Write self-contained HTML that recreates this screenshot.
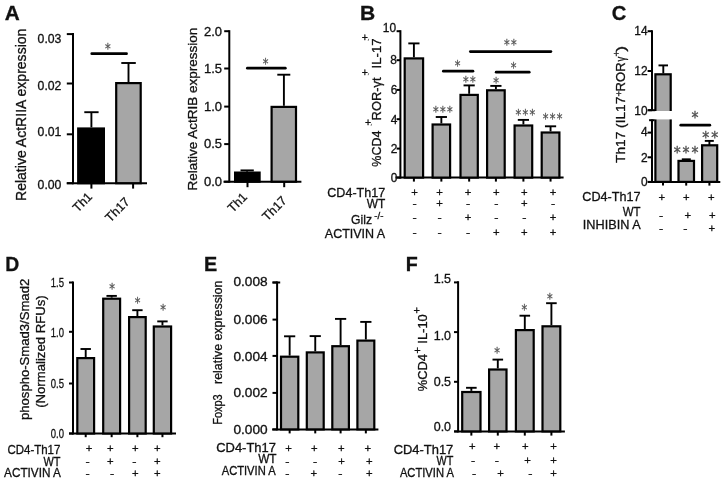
<!DOCTYPE html>
<html><head><meta charset="utf-8"><title>Figure</title>
<style>
html,body{margin:0;padding:0;background:#fff;}
svg{display:block;font-family:"Liberation Sans",Arial,sans-serif;fill:#111;}
.t{stroke:#111;stroke-width:0.3px;}
</style></head><body>
<svg width="725" height="482" viewBox="0 0 725 482">
<rect x="0" y="0" width="725" height="482" fill="#fff"/>
<g>
<text x="4.8" y="20" font-size="19.4" textLength="15" lengthAdjust="spacingAndGlyphs" font-weight="bold" class="t">A</text>
<line x1="73" y1="33" x2="73" y2="184.2" stroke="#000" stroke-width="2.0" stroke-linecap="butt"/>
<line x1="66.8" y1="183.2" x2="147" y2="183.2" stroke="#000" stroke-width="2.0" stroke-linecap="butt"/>
<line x1="66.8" y1="34.1" x2="73" y2="34.1" stroke="#000" stroke-width="2.0" stroke-linecap="butt"/>
<text x="61.4" y="43.17" font-size="12.2" text-anchor="end" textLength="23.8" lengthAdjust="spacingAndGlyphs" class="t">0.03</text>
<line x1="66.8" y1="83.5" x2="73" y2="83.5" stroke="#000" stroke-width="2.0" stroke-linecap="butt"/>
<text x="61.4" y="90.27" font-size="12.2" text-anchor="end" textLength="23.8" lengthAdjust="spacingAndGlyphs" class="t">0.02</text>
<line x1="66.8" y1="134.3" x2="73" y2="134.3" stroke="#000" stroke-width="2.0" stroke-linecap="butt"/>
<text x="61.4" y="135.97" font-size="12.2" text-anchor="end" textLength="23.8" lengthAdjust="spacingAndGlyphs" class="t">0.01</text>
<line x1="66.8" y1="183.2" x2="73" y2="183.2" stroke="#000" stroke-width="2.0" stroke-linecap="butt"/>
<text x="61.4" y="188.67" font-size="12.2" text-anchor="end" textLength="23.8" lengthAdjust="spacingAndGlyphs" class="t">0.00</text>
<rect x="78.2" y="128.5" width="25.7" height="54.7" fill="#000" stroke="#000" stroke-width="2.2"/>
<line x1="91.4" y1="112.2" x2="91.4" y2="127.4" stroke="#000" stroke-width="1.9" stroke-linecap="butt"/>
<line x1="84.3" y1="112.2" x2="98.6" y2="112.2" stroke="#000" stroke-width="1.9" stroke-linecap="butt"/>
<rect x="116.2" y="83.1" width="24.5" height="100.1" fill="#a6a6a6" stroke="#000" stroke-width="2.2"/>
<line x1="128.5" y1="63" x2="128.5" y2="82" stroke="#000" stroke-width="1.9" stroke-linecap="butt"/>
<line x1="121.3" y1="63" x2="135.8" y2="63" stroke="#000" stroke-width="1.9" stroke-linecap="butt"/>
<line x1="91.75" y1="53.65" x2="126.55" y2="53.65" stroke="#000" stroke-width="2.7" stroke-linecap="round"/>
<text transform="translate(107.9 45.8) scale(0.92 1.12)" x="0" y="6.01" font-size="12.4" text-anchor="middle" fill="#505050" font-family="DejaVu Sans, sans-serif" stroke="#505050" stroke-width="0.25">*</text>
<line x1="91.4" y1="183.2" x2="91.4" y2="188.6" stroke="#000" stroke-width="2.0" stroke-linecap="butt"/>
<line x1="133.1" y1="183.2" x2="133.1" y2="188.6" stroke="#000" stroke-width="2.0" stroke-linecap="butt"/>
<text x="93" y="197.5" font-size="12.5" text-anchor="end" transform="rotate(-45 93 197.5)" class="t">Th1</text>
<text x="130.5" y="202.5" font-size="12.5" text-anchor="end" transform="rotate(-45 130.5 202.5)" class="t">Th17</text>
<text x="25.8" y="201" font-size="14" textLength="172.4" lengthAdjust="spacingAndGlyphs" transform="rotate(-90 25.8 201)" class="t">Relative ActRIIA expression</text>
<line x1="229.3" y1="30.2" x2="229.3" y2="182.7" stroke="#000" stroke-width="2.0" stroke-linecap="butt"/>
<line x1="223.5" y1="181.7" x2="301.4" y2="181.7" stroke="#000" stroke-width="2.0" stroke-linecap="butt"/>
<line x1="224.2" y1="31.2" x2="229.3" y2="31.2" stroke="#000" stroke-width="2.0" stroke-linecap="butt"/>
<text x="222" y="36.07" font-size="12.2" text-anchor="end" textLength="18.1" lengthAdjust="spacingAndGlyphs" class="t">2.0</text>
<line x1="224.2" y1="68.5" x2="229.3" y2="68.5" stroke="#000" stroke-width="2.0" stroke-linecap="butt"/>
<text x="222" y="73.07" font-size="12.2" text-anchor="end" textLength="18.1" lengthAdjust="spacingAndGlyphs" class="t">1.5</text>
<line x1="224.2" y1="106.6" x2="229.3" y2="106.6" stroke="#000" stroke-width="2.0" stroke-linecap="butt"/>
<text x="222" y="110.97" font-size="12.2" text-anchor="end" textLength="18.1" lengthAdjust="spacingAndGlyphs" class="t">1.0</text>
<line x1="224.2" y1="144.1" x2="229.3" y2="144.1" stroke="#000" stroke-width="2.0" stroke-linecap="butt"/>
<text x="222" y="148.47" font-size="12.2" text-anchor="end" textLength="18.1" lengthAdjust="spacingAndGlyphs" class="t">0.5</text>
<line x1="224.2" y1="181.7" x2="229.3" y2="181.7" stroke="#000" stroke-width="2.0" stroke-linecap="butt"/>
<text x="222" y="186.17" font-size="12.2" text-anchor="end" textLength="18.1" lengthAdjust="spacingAndGlyphs" class="t">0.0</text>
<rect x="235.1" y="172.6" width="24.5" height="9.1" fill="#000" stroke="#000" stroke-width="2.2"/>
<line x1="247.1" y1="170.4" x2="247.1" y2="171.7" stroke="#000" stroke-width="1.9" stroke-linecap="butt"/>
<line x1="240.5" y1="170.4" x2="253.8" y2="170.4" stroke="#000" stroke-width="1.9" stroke-linecap="butt"/>
<rect x="271.6" y="106.9" width="24.4" height="74.8" fill="#a6a6a6" stroke="#000" stroke-width="2.2"/>
<line x1="283.9" y1="74.7" x2="283.9" y2="105.8" stroke="#000" stroke-width="1.9" stroke-linecap="butt"/>
<line x1="277.3" y1="74.7" x2="290.3" y2="74.7" stroke="#000" stroke-width="1.9" stroke-linecap="butt"/>
<line x1="247.35" y1="68.2" x2="285.35" y2="68.2" stroke="#000" stroke-width="2.7" stroke-linecap="round"/>
<text transform="translate(265.5 61.6) scale(0.92 1.12)" x="0" y="6.01" font-size="12.4" text-anchor="middle" fill="#505050" font-family="DejaVu Sans, sans-serif" stroke="#505050" stroke-width="0.25">*</text>
<line x1="247.5" y1="181.7" x2="247.5" y2="187.2" stroke="#000" stroke-width="2.0" stroke-linecap="butt"/>
<line x1="284.2" y1="181.7" x2="284.2" y2="187.2" stroke="#000" stroke-width="2.0" stroke-linecap="butt"/>
<text x="248" y="197.8" font-size="12.5" text-anchor="end" transform="rotate(-45 248 197.8)" class="t">Th1</text>
<text x="287.5" y="201.4" font-size="12.5" text-anchor="end" transform="rotate(-45 287.5 201.4)" class="t">Th17</text>
<text x="197.4" y="190.4" font-size="13.6" textLength="162.8" lengthAdjust="spacingAndGlyphs" transform="rotate(-90 197.4 190.4)" class="t">Relative ActRIB expression</text>
<text x="360" y="20" font-size="19.4" textLength="15.2" lengthAdjust="spacingAndGlyphs" font-weight="bold" class="t">B</text>
<line x1="400.4" y1="30.2" x2="400.4" y2="178.6" stroke="#000" stroke-width="2.0" stroke-linecap="butt"/>
<line x1="395.5" y1="177.6" x2="563.6" y2="177.6" stroke="#000" stroke-width="2.0" stroke-linecap="butt"/>
<line x1="396.6" y1="31.2" x2="400.4" y2="31.2" stroke="#000" stroke-width="2.0" stroke-linecap="butt"/>
<text x="396" y="32.06" font-size="11.9" text-anchor="end" class="t">10</text>
<line x1="396.6" y1="60.2" x2="400.4" y2="60.2" stroke="#000" stroke-width="2.0" stroke-linecap="butt"/>
<text x="396.8" y="63.76" font-size="11.9" text-anchor="end" class="t">8</text>
<line x1="396.6" y1="89.9" x2="400.4" y2="89.9" stroke="#000" stroke-width="2.0" stroke-linecap="butt"/>
<text x="397.4" y="94.16" font-size="11.9" text-anchor="end" class="t">6</text>
<line x1="396.6" y1="119.2" x2="400.4" y2="119.2" stroke="#000" stroke-width="2.0" stroke-linecap="butt"/>
<text x="397.4" y="123.76" font-size="11.9" text-anchor="end" class="t">4</text>
<line x1="396.6" y1="148.6" x2="400.4" y2="148.6" stroke="#000" stroke-width="2.0" stroke-linecap="butt"/>
<text x="397.4" y="153.26" font-size="11.9" text-anchor="end" class="t">2</text>
<line x1="396.6" y1="177.6" x2="400.4" y2="177.6" stroke="#000" stroke-width="2.0" stroke-linecap="butt"/>
<text x="397.4" y="182.26" font-size="11.9" text-anchor="end" class="t">0</text>
<rect x="404.7" y="58.4" width="18.4" height="119.2" fill="#a6a6a6" stroke="#000" stroke-width="2.2"/>
<line x1="413.9" y1="43.4" x2="413.9" y2="57.3" stroke="#000" stroke-width="1.9" stroke-linecap="butt"/>
<line x1="408.3" y1="43.4" x2="419.5" y2="43.4" stroke="#000" stroke-width="1.9" stroke-linecap="butt"/>
<line x1="413.9" y1="177.6" x2="413.9" y2="181.6" stroke="#000" stroke-width="2.0" stroke-linecap="butt"/>
<rect x="432.6" y="124.5" width="17.5" height="53.1" fill="#a6a6a6" stroke="#000" stroke-width="2.2"/>
<line x1="441.35" y1="117" x2="441.35" y2="123.4" stroke="#000" stroke-width="1.9" stroke-linecap="butt"/>
<line x1="435.75" y1="117" x2="446.95" y2="117" stroke="#000" stroke-width="1.9" stroke-linecap="butt"/>
<line x1="441.35" y1="177.6" x2="441.35" y2="181.6" stroke="#000" stroke-width="2.0" stroke-linecap="butt"/>
<rect x="460.5" y="94.9" width="17.3" height="82.7" fill="#a6a6a6" stroke="#000" stroke-width="2.2"/>
<line x1="469.15" y1="85.4" x2="469.15" y2="93.8" stroke="#000" stroke-width="1.9" stroke-linecap="butt"/>
<line x1="463.55" y1="85.4" x2="474.75" y2="85.4" stroke="#000" stroke-width="1.9" stroke-linecap="butt"/>
<line x1="469.15" y1="177.6" x2="469.15" y2="181.6" stroke="#000" stroke-width="2.0" stroke-linecap="butt"/>
<rect x="487.1" y="90.3" width="17.6" height="87.3" fill="#a6a6a6" stroke="#000" stroke-width="2.2"/>
<line x1="495.9" y1="85.9" x2="495.9" y2="89.2" stroke="#000" stroke-width="1.9" stroke-linecap="butt"/>
<line x1="490.3" y1="85.9" x2="501.5" y2="85.9" stroke="#000" stroke-width="1.9" stroke-linecap="butt"/>
<line x1="495.9" y1="177.6" x2="495.9" y2="181.6" stroke="#000" stroke-width="2.0" stroke-linecap="butt"/>
<rect x="514.6" y="125.5" width="17.6" height="52.1" fill="#a6a6a6" stroke="#000" stroke-width="2.2"/>
<line x1="523.4" y1="119.9" x2="523.4" y2="124.4" stroke="#000" stroke-width="1.9" stroke-linecap="butt"/>
<line x1="517.8" y1="119.9" x2="529.0" y2="119.9" stroke="#000" stroke-width="1.9" stroke-linecap="butt"/>
<line x1="523.4" y1="177.6" x2="523.4" y2="181.6" stroke="#000" stroke-width="2.0" stroke-linecap="butt"/>
<rect x="541.7" y="132.5" width="17.7" height="45.1" fill="#a6a6a6" stroke="#000" stroke-width="2.2"/>
<line x1="550.55" y1="126.3" x2="550.55" y2="131.4" stroke="#000" stroke-width="1.9" stroke-linecap="butt"/>
<line x1="544.95" y1="126.3" x2="556.15" y2="126.3" stroke="#000" stroke-width="1.9" stroke-linecap="butt"/>
<line x1="550.55" y1="177.6" x2="550.55" y2="181.6" stroke="#000" stroke-width="2.0" stroke-linecap="butt"/>
<line x1="443.35" y1="71.2" x2="472.95" y2="71.2" stroke="#000" stroke-width="2.7" stroke-linecap="round"/>
<line x1="470.35" y1="51.6" x2="550.95" y2="51.6" stroke="#000" stroke-width="2.7" stroke-linecap="round"/>
<line x1="496.15" y1="72.2" x2="529.25" y2="72.2" stroke="#000" stroke-width="2.7" stroke-linecap="round"/>
<text transform="translate(457.5 63.5) scale(0.92 1.12)" x="0" y="6.01" font-size="12.4" text-anchor="middle" fill="#505050" font-family="DejaVu Sans, sans-serif" stroke="#505050" stroke-width="0.25">*</text>
<text transform="translate(510.94 42.1) scale(0.92 1.12)" x="0" y="6.01" font-size="12.4" text-anchor="middle" fill="#505050" font-family="DejaVu Sans, sans-serif" stroke="#505050" stroke-width="0.25" letter-spacing="1.4">**</text>
<text transform="translate(513.6 65) scale(0.92 1.12)" x="0" y="6.01" font-size="12.4" text-anchor="middle" fill="#505050" font-family="DejaVu Sans, sans-serif" stroke="#505050" stroke-width="0.25">*</text>
<text transform="translate(443.44 109.5) scale(0.92 1.12)" x="0" y="6.01" font-size="12.4" text-anchor="middle" fill="#505050" font-family="DejaVu Sans, sans-serif" stroke="#505050" stroke-width="0.25" letter-spacing="1.4">***</text>
<text transform="translate(470.04 79.7) scale(0.92 1.12)" x="0" y="6.01" font-size="12.4" text-anchor="middle" fill="#505050" font-family="DejaVu Sans, sans-serif" stroke="#505050" stroke-width="0.25" letter-spacing="1.4">**</text>
<text transform="translate(496 80) scale(0.92 1.12)" x="0" y="6.01" font-size="12.4" text-anchor="middle" fill="#505050" font-family="DejaVu Sans, sans-serif" stroke="#505050" stroke-width="0.25">*</text>
<text transform="translate(525.94 112.6) scale(0.92 1.12)" x="0" y="6.01" font-size="12.4" text-anchor="middle" fill="#505050" font-family="DejaVu Sans, sans-serif" stroke="#505050" stroke-width="0.25" letter-spacing="1.4">***</text>
<text transform="translate(553.24 115.8) scale(0.92 1.12)" x="0" y="6.01" font-size="12.4" text-anchor="middle" fill="#505050" font-family="DejaVu Sans, sans-serif" stroke="#505050" stroke-width="0.25" letter-spacing="1.4">***</text>
<text x="414.6" y="195.76" font-size="11.3" text-anchor="middle" class="t">+</text>
<text x="439.5" y="195.76" font-size="11.3" text-anchor="middle" class="t">+</text>
<text x="468" y="195.76" font-size="11.3" text-anchor="middle" class="t">+</text>
<text x="496.4" y="195.76" font-size="11.3" text-anchor="middle" class="t">+</text>
<text x="524.3" y="195.76" font-size="11.3" text-anchor="middle" class="t">+</text>
<text x="553" y="195.76" font-size="11.3" text-anchor="middle" class="t">+</text>
<text x="414.6" y="207.31" font-size="11.3" text-anchor="middle" textLength="4.2" lengthAdjust="spacingAndGlyphs" class="t">-</text>
<text x="439.5" y="207.46" font-size="11.3" text-anchor="middle" class="t">+</text>
<text x="468" y="207.31" font-size="11.3" text-anchor="middle" textLength="4.2" lengthAdjust="spacingAndGlyphs" class="t">-</text>
<text x="496.4" y="207.31" font-size="11.3" text-anchor="middle" textLength="4.2" lengthAdjust="spacingAndGlyphs" class="t">-</text>
<text x="524.3" y="207.46" font-size="11.3" text-anchor="middle" class="t">+</text>
<text x="553" y="207.31" font-size="11.3" text-anchor="middle" textLength="4.2" lengthAdjust="spacingAndGlyphs" class="t">-</text>
<text x="414.6" y="221.21" font-size="11.3" text-anchor="middle" textLength="4.2" lengthAdjust="spacingAndGlyphs" class="t">-</text>
<text x="439.5" y="221.21" font-size="11.3" text-anchor="middle" textLength="4.2" lengthAdjust="spacingAndGlyphs" class="t">-</text>
<text x="468" y="221.36" font-size="11.3" text-anchor="middle" class="t">+</text>
<text x="496.4" y="221.21" font-size="11.3" text-anchor="middle" textLength="4.2" lengthAdjust="spacingAndGlyphs" class="t">-</text>
<text x="524.3" y="221.21" font-size="11.3" text-anchor="middle" textLength="4.2" lengthAdjust="spacingAndGlyphs" class="t">-</text>
<text x="553" y="221.36" font-size="11.3" text-anchor="middle" class="t">+</text>
<text x="414.6" y="235.61" font-size="11.3" text-anchor="middle" textLength="4.2" lengthAdjust="spacingAndGlyphs" class="t">-</text>
<text x="439.5" y="235.61" font-size="11.3" text-anchor="middle" textLength="4.2" lengthAdjust="spacingAndGlyphs" class="t">-</text>
<text x="468" y="235.61" font-size="11.3" text-anchor="middle" textLength="4.2" lengthAdjust="spacingAndGlyphs" class="t">-</text>
<text x="496.4" y="235.76" font-size="11.3" text-anchor="middle" class="t">+</text>
<text x="524.3" y="235.76" font-size="11.3" text-anchor="middle" class="t">+</text>
<text x="553" y="235.76" font-size="11.3" text-anchor="middle" class="t">+</text>
<text x="385.2" y="196.8" font-size="12.8" text-anchor="end" textLength="57.9" lengthAdjust="spacingAndGlyphs" class="t">CD4-Th17</text>
<text x="385.2" y="207.9" font-size="12.8" text-anchor="end" textLength="18.5" lengthAdjust="spacingAndGlyphs" class="t">WT</text>
<text x="372" y="224.1" font-size="12.8" text-anchor="end" textLength="21" lengthAdjust="spacingAndGlyphs" class="t">Gilz</text>
<text x="374.3" y="219" font-size="9.6" textLength="9.2" lengthAdjust="spacingAndGlyphs" class="t">-/-</text>
<text x="385.2" y="237.5" font-size="12.8" text-anchor="end" textLength="60.4" lengthAdjust="spacingAndGlyphs" class="t">ACTIVIN A</text>
<text x="381.3" y="166.7" font-size="13" textLength="36.1" lengthAdjust="spacingAndGlyphs" transform="rotate(-90 381.3 166.7)" class="t">%CD4</text>
<text x="381.3" y="120.4" font-size="13" textLength="42.9" lengthAdjust="spacingAndGlyphs" transform="rotate(-90 381.3 120.4)" class="t">ROR-γt</text>
<text x="381.3" y="68.5" font-size="13" textLength="30.1" lengthAdjust="spacingAndGlyphs" transform="rotate(-90 381.3 68.5)" class="t">IL-17</text>
<text x="368" y="126.0" font-size="10.5" text-anchor="middle" class="t">+</text>
<text x="364.9" y="75.5" font-size="10.5" text-anchor="middle" class="t">+</text>
<text x="364.9" y="40.9" font-size="10.5" text-anchor="middle" class="t">+</text>
<line x1="368.7" y1="38.8" x2="368.2" y2="40.8" stroke="#666" stroke-width="0.9" stroke-linecap="butt"/>
<line x1="368.7" y1="73.2" x2="368.2" y2="75.2" stroke="#666" stroke-width="0.9" stroke-linecap="butt"/>
<line x1="371.6" y1="123.8" x2="371.1" y2="125.8" stroke="#666" stroke-width="0.9" stroke-linecap="butt"/>
<text x="611.8" y="20" font-size="19.4" textLength="14.6" lengthAdjust="spacingAndGlyphs" font-weight="bold" class="t">C</text>
<line x1="652" y1="30.2" x2="652" y2="111" stroke="#000" stroke-width="2.0" stroke-linecap="butt"/>
<line x1="652" y1="119.2" x2="652" y2="182.9" stroke="#000" stroke-width="2.0" stroke-linecap="butt"/>
<line x1="648" y1="181.9" x2="720.3" y2="181.9" stroke="#000" stroke-width="2.0" stroke-linecap="butt"/>
<rect x="655.4" y="74.3" width="15.3" height="107.6" fill="#a6a6a6" stroke="#000" stroke-width="2.2"/>
<rect x="646" y="111" width="28" height="8.4" fill="#fff"/>
<line x1="648.3" y1="110.2" x2="655.2" y2="110.2" stroke="#000" stroke-width="2.0" stroke-linecap="butt"/>
<line x1="647.6" y1="31.2" x2="652" y2="31.2" stroke="#000" stroke-width="2.0" stroke-linecap="butt"/>
<text x="647.6" y="35.16" font-size="11.9" text-anchor="end" class="t">14</text>
<line x1="647.6" y1="71" x2="652" y2="71" stroke="#000" stroke-width="2.0" stroke-linecap="butt"/>
<text x="647.6" y="75.06" font-size="11.9" text-anchor="end" class="t">12</text>
<line x1="647.6" y1="110.2" x2="652" y2="110.2" stroke="#000" stroke-width="2.0" stroke-linecap="butt"/>
<text x="647.6" y="114.56" font-size="11.9" text-anchor="end" class="t">10</text>
<line x1="647.6" y1="132.6" x2="652" y2="132.6" stroke="#000" stroke-width="2.0" stroke-linecap="butt"/>
<text x="647.6" y="136.46" font-size="11.9" text-anchor="end" class="t">4</text>
<line x1="647.6" y1="157.3" x2="652" y2="157.3" stroke="#000" stroke-width="2.0" stroke-linecap="butt"/>
<text x="647.6" y="161.86" font-size="11.9" text-anchor="end" class="t">2</text>
<line x1="647.6" y1="181.9" x2="652" y2="181.9" stroke="#000" stroke-width="2.0" stroke-linecap="butt"/>
<text x="647.6" y="186.26" font-size="11.9" text-anchor="end" class="t">0</text>
<line x1="649.1" y1="120.2" x2="654.6" y2="120.2" stroke="#000" stroke-width="2.0" stroke-linecap="butt"/>
<line x1="663.3" y1="65.4" x2="663.3" y2="73.4" stroke="#000" stroke-width="1.9" stroke-linecap="butt"/>
<line x1="658.5" y1="65.4" x2="668" y2="65.4" stroke="#000" stroke-width="1.9" stroke-linecap="butt"/>
<rect x="678.5" y="160.9" width="15.5" height="21.0" fill="#a6a6a6" stroke="#000" stroke-width="2.2"/>
<line x1="686.3" y1="159.3" x2="686.3" y2="160.5" stroke="#000" stroke-width="1.9" stroke-linecap="butt"/>
<line x1="681.8" y1="159.3" x2="690.8" y2="159.3" stroke="#000" stroke-width="1.9" stroke-linecap="butt"/>
<rect x="702.1" y="145.3" width="15.1" height="36.6" fill="#a6a6a6" stroke="#000" stroke-width="2.2"/>
<line x1="709.4" y1="140.9" x2="709.4" y2="145.3" stroke="#000" stroke-width="1.9" stroke-linecap="butt"/>
<line x1="704.8" y1="140.9" x2="713.8" y2="140.9" stroke="#000" stroke-width="1.9" stroke-linecap="butt"/>
<line x1="663" y1="181.9" x2="663" y2="185.6" stroke="#000" stroke-width="2.0" stroke-linecap="butt"/>
<line x1="686.2" y1="181.9" x2="686.2" y2="185.6" stroke="#000" stroke-width="2.0" stroke-linecap="butt"/>
<line x1="709.4" y1="181.9" x2="709.4" y2="185.6" stroke="#000" stroke-width="2.0" stroke-linecap="butt"/>
<line x1="680.75" y1="125.2" x2="709.85" y2="125.2" stroke="#000" stroke-width="2.7" stroke-linecap="round"/>
<text transform="translate(695.1 115.9) scale(0.92 1.0)" x="0" y="7.48" font-size="15.2" text-anchor="middle" fill="#505050" font-family="DejaVu Sans, sans-serif" stroke="#505050" stroke-width="0.4">*</text>
<text transform="translate(711.27 135.5) scale(0.92 1.0)" x="0" y="7.48" font-size="15.2" text-anchor="middle" fill="#505050" font-family="DejaVu Sans, sans-serif" stroke="#505050" stroke-width="0.4" letter-spacing="2.1">**</text>
<text transform="translate(687.07 150.2) scale(0.92 1.0)" x="0" y="7.48" font-size="15.2" text-anchor="middle" fill="#505050" font-family="DejaVu Sans, sans-serif" stroke="#505050" stroke-width="0.4" letter-spacing="2.1">***</text>
<text x="661.7" y="201.36" font-size="11.3" text-anchor="middle" class="t">+</text>
<text x="686.4" y="201.36" font-size="11.3" text-anchor="middle" class="t">+</text>
<text x="711.4" y="201.36" font-size="11.3" text-anchor="middle" class="t">+</text>
<text x="661" y="218.71" font-size="11.3" text-anchor="middle" textLength="4.2" lengthAdjust="spacingAndGlyphs" class="t">-</text>
<text x="687.7" y="218.86" font-size="11.3" text-anchor="middle" class="t">+</text>
<text x="712.4" y="218.86" font-size="11.3" text-anchor="middle" class="t">+</text>
<text x="661" y="232.21" font-size="11.3" text-anchor="middle" textLength="4.2" lengthAdjust="spacingAndGlyphs" class="t">-</text>
<text x="685.4" y="232.21" font-size="11.3" text-anchor="middle" textLength="4.2" lengthAdjust="spacingAndGlyphs" class="t">-</text>
<text x="711.7" y="232.36" font-size="11.3" text-anchor="middle" class="t">+</text>
<text x="640.6" y="201" font-size="12.8" text-anchor="end" textLength="58.3" lengthAdjust="spacingAndGlyphs" class="t">CD4-Th17</text>
<text x="640.6" y="215.5" font-size="12.8" text-anchor="end" textLength="17.8" lengthAdjust="spacingAndGlyphs" class="t">WT</text>
<text x="640.6" y="229.2" font-size="12.8" text-anchor="end" textLength="57.8" lengthAdjust="spacingAndGlyphs" class="t">INHIBIN A</text>
<text x="624.6" y="162.9" font-size="13.2" textLength="66.2" lengthAdjust="spacingAndGlyphs" transform="rotate(-90 624.6 162.9)" class="t">Th17 (IL17</text>
<text x="624.6" y="91.4" font-size="13.2" textLength="29.0" lengthAdjust="spacingAndGlyphs" transform="rotate(-90 624.6 91.4)" class="t">ROR</text>
<text x="624.6" y="61.6" font-size="13.2" textLength="4.8" lengthAdjust="spacingAndGlyphs" transform="rotate(-90 624.6 61.6)" class="t">γ</text>
<text x="624.6" y="51.8" font-size="13.2" textLength="6.0" lengthAdjust="spacingAndGlyphs" transform="rotate(-90 624.6 51.8)" class="t">)</text>
<text x="618.7" y="96.56" font-size="9.5" text-anchor="middle" class="t">+</text>
<text x="616.3" y="56.86" font-size="9.5" text-anchor="middle" class="t">+</text>
<text x="5.2" y="271.4" font-size="19.4" textLength="14" lengthAdjust="spacingAndGlyphs" font-weight="bold" class="t">D</text>
<line x1="73" y1="281.6" x2="73" y2="434.5" stroke="#000" stroke-width="2.0" stroke-linecap="butt"/>
<line x1="69" y1="433.5" x2="176" y2="433.5" stroke="#000" stroke-width="2.0" stroke-linecap="butt"/>
<line x1="69" y1="282.5" x2="73" y2="282.5" stroke="#000" stroke-width="2.0" stroke-linecap="butt"/>
<text x="64" y="286.67" font-size="12.2" text-anchor="end" textLength="13.2" lengthAdjust="spacingAndGlyphs" class="t">1.5</text>
<line x1="69" y1="331.8" x2="73" y2="331.8" stroke="#000" stroke-width="2.0" stroke-linecap="butt"/>
<text x="64" y="336.67" font-size="12.2" text-anchor="end" textLength="13.2" lengthAdjust="spacingAndGlyphs" class="t">1.0</text>
<line x1="69" y1="383.5" x2="73" y2="383.5" stroke="#000" stroke-width="2.0" stroke-linecap="butt"/>
<text x="64" y="387.87" font-size="12.2" text-anchor="end" textLength="13.2" lengthAdjust="spacingAndGlyphs" class="t">0.5</text>
<line x1="69" y1="433.5" x2="73" y2="433.5" stroke="#000" stroke-width="2.0" stroke-linecap="butt"/>
<text x="64" y="437.77" font-size="12.2" text-anchor="end" textLength="13.2" lengthAdjust="spacingAndGlyphs" class="t">0.0</text>
<rect x="77.3" y="358.1" width="16.8" height="75.4" fill="#a6a6a6" stroke="#000" stroke-width="2.2"/>
<line x1="85.7" y1="349" x2="85.7" y2="357" stroke="#000" stroke-width="1.9" stroke-linecap="butt"/>
<line x1="80.5" y1="349" x2="90.9" y2="349" stroke="#000" stroke-width="1.9" stroke-linecap="butt"/>
<line x1="85.7" y1="433.5" x2="85.7" y2="437.2" stroke="#000" stroke-width="2.0" stroke-linecap="butt"/>
<rect x="103.2" y="298.7" width="16.9" height="134.8" fill="#a6a6a6" stroke="#000" stroke-width="2.2"/>
<line x1="111.65" y1="295.9" x2="111.65" y2="297.6" stroke="#000" stroke-width="1.9" stroke-linecap="butt"/>
<line x1="106.45" y1="295.9" x2="116.85" y2="295.9" stroke="#000" stroke-width="1.9" stroke-linecap="butt"/>
<line x1="111.65" y1="433.5" x2="111.65" y2="437.2" stroke="#000" stroke-width="2.0" stroke-linecap="butt"/>
<rect x="129.1" y="317.1" width="16.6" height="116.4" fill="#a6a6a6" stroke="#000" stroke-width="2.2"/>
<line x1="137.4" y1="310.2" x2="137.4" y2="316" stroke="#000" stroke-width="1.9" stroke-linecap="butt"/>
<line x1="132.2" y1="310.2" x2="142.6" y2="310.2" stroke="#000" stroke-width="1.9" stroke-linecap="butt"/>
<line x1="137.4" y1="433.5" x2="137.4" y2="437.2" stroke="#000" stroke-width="2.0" stroke-linecap="butt"/>
<rect x="153.8" y="326.5" width="17.3" height="107.0" fill="#a6a6a6" stroke="#000" stroke-width="2.2"/>
<line x1="162.45" y1="321.4" x2="162.45" y2="325.4" stroke="#000" stroke-width="1.9" stroke-linecap="butt"/>
<line x1="157.25" y1="321.4" x2="167.65" y2="321.4" stroke="#000" stroke-width="1.9" stroke-linecap="butt"/>
<line x1="162.45" y1="433.5" x2="162.45" y2="437.2" stroke="#000" stroke-width="2.0" stroke-linecap="butt"/>
<text transform="translate(112 286.2) scale(0.92 1.12)" x="0" y="6.01" font-size="12.4" text-anchor="middle" fill="#505050" font-family="DejaVu Sans, sans-serif" stroke="#505050" stroke-width="0.25">*</text>
<text transform="translate(137.7 300.7) scale(0.92 1.12)" x="0" y="6.01" font-size="12.4" text-anchor="middle" fill="#505050" font-family="DejaVu Sans, sans-serif" stroke="#505050" stroke-width="0.25">*</text>
<text transform="translate(163 307.5) scale(0.92 1.12)" x="0" y="6.01" font-size="12.4" text-anchor="middle" fill="#505050" font-family="DejaVu Sans, sans-serif" stroke="#505050" stroke-width="0.25">*</text>
<text x="89" y="451.96" font-size="11.3" text-anchor="middle" class="t">+</text>
<text x="110.2" y="451.96" font-size="11.3" text-anchor="middle" class="t">+</text>
<text x="135.4" y="451.96" font-size="11.3" text-anchor="middle" class="t">+</text>
<text x="157.4" y="451.96" font-size="11.3" text-anchor="middle" class="t">+</text>
<text x="87.6" y="464.71" font-size="11.3" text-anchor="middle" textLength="4.2" lengthAdjust="spacingAndGlyphs" class="t">-</text>
<text x="110.2" y="464.86" font-size="11.3" text-anchor="middle" class="t">+</text>
<text x="134.4" y="464.71" font-size="11.3" text-anchor="middle" textLength="4.2" lengthAdjust="spacingAndGlyphs" class="t">-</text>
<text x="157.4" y="464.86" font-size="11.3" text-anchor="middle" class="t">+</text>
<text x="87.6" y="476.61" font-size="11.3" text-anchor="middle" textLength="4.2" lengthAdjust="spacingAndGlyphs" class="t">-</text>
<text x="112.2" y="476.61" font-size="11.3" text-anchor="middle" textLength="4.2" lengthAdjust="spacingAndGlyphs" class="t">-</text>
<text x="135.4" y="476.76" font-size="11.3" text-anchor="middle" class="t">+</text>
<text x="157.4" y="476.76" font-size="11.3" text-anchor="middle" class="t">+</text>
<text x="60.4" y="454" font-size="12.2" text-anchor="end" textLength="53" lengthAdjust="spacingAndGlyphs" class="t">CD4-Th17</text>
<text x="60.4" y="465.6" font-size="12.2" text-anchor="end" textLength="17" lengthAdjust="spacingAndGlyphs" class="t">WT</text>
<text x="60.9" y="476.9" font-size="12.2" text-anchor="end" textLength="56.8" lengthAdjust="spacingAndGlyphs" class="t">ACTIVIN A</text>
<text x="28.8" y="420" font-size="13" textLength="141.2" lengthAdjust="spacingAndGlyphs" transform="rotate(-90 28.8 420)" class="t">phospho-Smad3/Smad2</text>
<text x="44.7" y="407.8" font-size="13.2" textLength="112.5" lengthAdjust="spacingAndGlyphs" transform="rotate(-90 44.7 407.8)" class="t">(Normalized RFUs)</text>
<text x="204" y="270.8" font-size="19.4" textLength="13.2" lengthAdjust="spacingAndGlyphs" font-weight="bold" class="t">E</text>
<line x1="277.1" y1="281.5" x2="277.1" y2="430.4" stroke="#000" stroke-width="2.0" stroke-linecap="butt"/>
<line x1="272.2" y1="429.4" x2="378.4" y2="429.4" stroke="#000" stroke-width="2.0" stroke-linecap="butt"/>
<line x1="272.5" y1="282.5" x2="280.2" y2="282.5" stroke="#000" stroke-width="2.0" stroke-linecap="butt"/>
<line x1="272.5" y1="282.5" x2="277.1" y2="282.5" stroke="#000" stroke-width="2.0" stroke-linecap="butt"/>
<text x="267.6" y="286.07" font-size="12.2" text-anchor="end" textLength="34.2" lengthAdjust="spacingAndGlyphs" class="t">0.008</text>
<line x1="272.5" y1="319.6" x2="277.1" y2="319.6" stroke="#000" stroke-width="2.0" stroke-linecap="butt"/>
<text x="267.6" y="323.57" font-size="12.2" text-anchor="end" textLength="34.2" lengthAdjust="spacingAndGlyphs" class="t">0.006</text>
<line x1="272.5" y1="355.9" x2="277.1" y2="355.9" stroke="#000" stroke-width="2.0" stroke-linecap="butt"/>
<text x="267.6" y="360.57" font-size="12.2" text-anchor="end" textLength="34.2" lengthAdjust="spacingAndGlyphs" class="t">0.004</text>
<line x1="272.5" y1="392.9" x2="277.1" y2="392.9" stroke="#000" stroke-width="2.0" stroke-linecap="butt"/>
<text x="267.6" y="397.27" font-size="12.2" text-anchor="end" textLength="34.2" lengthAdjust="spacingAndGlyphs" class="t">0.002</text>
<line x1="272.5" y1="429.4" x2="277.1" y2="429.4" stroke="#000" stroke-width="2.0" stroke-linecap="butt"/>
<text x="267.6" y="434.27" font-size="12.2" text-anchor="end" textLength="34.2" lengthAdjust="spacingAndGlyphs" class="t">0.000</text>
<rect x="281.0" y="356.7" width="17.3" height="72.7" fill="#a6a6a6" stroke="#000" stroke-width="2.2"/>
<line x1="289.65" y1="336.3" x2="289.65" y2="355.6" stroke="#000" stroke-width="1.9" stroke-linecap="butt"/>
<line x1="284.05" y1="336.3" x2="295.25" y2="336.3" stroke="#000" stroke-width="1.9" stroke-linecap="butt"/>
<line x1="289.65" y1="429.4" x2="289.65" y2="433.4" stroke="#000" stroke-width="2.0" stroke-linecap="butt"/>
<rect x="306.8" y="352.4" width="16.9" height="77.0" fill="#a6a6a6" stroke="#000" stroke-width="2.2"/>
<line x1="315.25" y1="336.1" x2="315.25" y2="351.3" stroke="#000" stroke-width="1.9" stroke-linecap="butt"/>
<line x1="309.65" y1="336.1" x2="320.85" y2="336.1" stroke="#000" stroke-width="1.9" stroke-linecap="butt"/>
<line x1="315.25" y1="429.4" x2="315.25" y2="433.4" stroke="#000" stroke-width="2.0" stroke-linecap="butt"/>
<rect x="332.3" y="346.2" width="16.6" height="83.2" fill="#a6a6a6" stroke="#000" stroke-width="2.2"/>
<line x1="340.6" y1="318.9" x2="340.6" y2="345.1" stroke="#000" stroke-width="1.9" stroke-linecap="butt"/>
<line x1="335.0" y1="318.9" x2="346.2" y2="318.9" stroke="#000" stroke-width="1.9" stroke-linecap="butt"/>
<line x1="340.6" y1="429.4" x2="340.6" y2="433.4" stroke="#000" stroke-width="2.0" stroke-linecap="butt"/>
<rect x="357.4" y="340.6" width="16.9" height="88.8" fill="#a6a6a6" stroke="#000" stroke-width="2.2"/>
<line x1="365.85" y1="321.9" x2="365.85" y2="339.5" stroke="#000" stroke-width="1.9" stroke-linecap="butt"/>
<line x1="360.25" y1="321.9" x2="371.45" y2="321.9" stroke="#000" stroke-width="1.9" stroke-linecap="butt"/>
<line x1="365.85" y1="429.4" x2="365.85" y2="433.4" stroke="#000" stroke-width="2.0" stroke-linecap="butt"/>
<text x="288.5" y="451.96" font-size="11.3" text-anchor="middle" class="t">+</text>
<text x="314.4" y="451.96" font-size="11.3" text-anchor="middle" class="t">+</text>
<text x="341.2" y="451.96" font-size="11.3" text-anchor="middle" class="t">+</text>
<text x="367.7" y="451.96" font-size="11.3" text-anchor="middle" class="t">+</text>
<text x="287.4" y="464.71" font-size="11.3" text-anchor="middle" textLength="4.2" lengthAdjust="spacingAndGlyphs" class="t">-</text>
<text x="315" y="464.71" font-size="11.3" text-anchor="middle" textLength="4.2" lengthAdjust="spacingAndGlyphs" class="t">-</text>
<text x="341.5" y="464.86" font-size="11.3" text-anchor="middle" class="t">+</text>
<text x="369.3" y="464.86" font-size="11.3" text-anchor="middle" class="t">+</text>
<text x="287.4" y="476.61" font-size="11.3" text-anchor="middle" textLength="4.2" lengthAdjust="spacingAndGlyphs" class="t">-</text>
<text x="313.9" y="476.76" font-size="11.3" text-anchor="middle" class="t">+</text>
<text x="340.4" y="476.61" font-size="11.3" text-anchor="middle" textLength="4.2" lengthAdjust="spacingAndGlyphs" class="t">-</text>
<text x="369.3" y="476.76" font-size="11.3" text-anchor="middle" class="t">+</text>
<text x="275.9" y="451.8" font-size="11.9" text-anchor="end" textLength="59.7" lengthAdjust="spacingAndGlyphs" class="t">CD4-Th17</text>
<text x="276.6" y="462.6" font-size="11.9" text-anchor="end" textLength="18.4" lengthAdjust="spacingAndGlyphs" class="t">WT</text>
<text x="275.7" y="474.8" font-size="11.9" text-anchor="end" textLength="54" lengthAdjust="spacingAndGlyphs" class="t">ACTIVIN A</text>
<text x="221.8" y="424.8" font-size="12.2" textLength="30.5" lengthAdjust="spacingAndGlyphs" transform="rotate(-90 221.8 424.8)" class="t">Foxp3</text>
<text x="221.8" y="383.9" font-size="12.3" textLength="103.3" lengthAdjust="spacingAndGlyphs" transform="rotate(-90 221.8 383.9)" class="t">relative expression</text>
<text x="405.8" y="271.3" font-size="19.4" textLength="12" lengthAdjust="spacingAndGlyphs" font-weight="bold" class="t">F</text>
<line x1="458.1" y1="281.2" x2="458.1" y2="432.4" stroke="#000" stroke-width="2.0" stroke-linecap="butt"/>
<line x1="454.2" y1="431.4" x2="564.9" y2="431.4" stroke="#000" stroke-width="2.0" stroke-linecap="butt"/>
<line x1="454" y1="282.4" x2="458.1" y2="282.4" stroke="#000" stroke-width="2.0" stroke-linecap="butt"/>
<text x="451.1" y="282.57" font-size="12.2" text-anchor="end" textLength="17.4" lengthAdjust="spacingAndGlyphs" class="t">1.5</text>
<line x1="454" y1="332.1" x2="458.1" y2="332.1" stroke="#000" stroke-width="2.0" stroke-linecap="butt"/>
<text x="451.1" y="339.77" font-size="12.2" text-anchor="end" textLength="17.4" lengthAdjust="spacingAndGlyphs" class="t">1.0</text>
<line x1="454" y1="381.8" x2="458.1" y2="381.8" stroke="#000" stroke-width="2.0" stroke-linecap="butt"/>
<text x="451.1" y="385.77" font-size="12.2" text-anchor="end" textLength="17.4" lengthAdjust="spacingAndGlyphs" class="t">0.5</text>
<line x1="454" y1="431.4" x2="458.1" y2="431.4" stroke="#000" stroke-width="2.0" stroke-linecap="butt"/>
<text x="451.1" y="431.37" font-size="12.2" text-anchor="end" textLength="17.4" lengthAdjust="spacingAndGlyphs" class="t">0.0</text>
<rect x="462.2" y="392.0" width="18.3" height="39.4" fill="#a6a6a6" stroke="#000" stroke-width="2.2"/>
<line x1="471.35" y1="387.8" x2="471.35" y2="390.9" stroke="#000" stroke-width="1.9" stroke-linecap="butt"/>
<line x1="466.05" y1="387.8" x2="476.65" y2="387.8" stroke="#000" stroke-width="1.9" stroke-linecap="butt"/>
<line x1="471.35" y1="431.4" x2="471.35" y2="435.6" stroke="#000" stroke-width="2.0" stroke-linecap="butt"/>
<rect x="489.1" y="369.5" width="17.4" height="61.9" fill="#a6a6a6" stroke="#000" stroke-width="2.2"/>
<line x1="497.8" y1="359.6" x2="497.8" y2="368.4" stroke="#000" stroke-width="1.9" stroke-linecap="butt"/>
<line x1="492.5" y1="359.6" x2="503.1" y2="359.6" stroke="#000" stroke-width="1.9" stroke-linecap="butt"/>
<line x1="497.8" y1="431.4" x2="497.8" y2="435.6" stroke="#000" stroke-width="2.0" stroke-linecap="butt"/>
<rect x="515.9" y="330.1" width="17.8" height="101.3" fill="#a6a6a6" stroke="#000" stroke-width="2.2"/>
<line x1="524.8" y1="315.7" x2="524.8" y2="329" stroke="#000" stroke-width="1.9" stroke-linecap="butt"/>
<line x1="519.5" y1="315.7" x2="530.1" y2="315.7" stroke="#000" stroke-width="1.9" stroke-linecap="butt"/>
<line x1="524.8" y1="431.4" x2="524.8" y2="435.6" stroke="#000" stroke-width="2.0" stroke-linecap="butt"/>
<rect x="542.5" y="326.3" width="17.8" height="105.1" fill="#a6a6a6" stroke="#000" stroke-width="2.2"/>
<line x1="551.4" y1="303.2" x2="551.4" y2="325.2" stroke="#000" stroke-width="1.9" stroke-linecap="butt"/>
<line x1="546.1" y1="303.2" x2="556.7" y2="303.2" stroke="#000" stroke-width="1.9" stroke-linecap="butt"/>
<line x1="551.4" y1="431.4" x2="551.4" y2="435.6" stroke="#000" stroke-width="2.0" stroke-linecap="butt"/>
<text transform="translate(497 350) scale(0.92 1.12)" x="0" y="6.01" font-size="12.4" text-anchor="middle" fill="#505050" font-family="DejaVu Sans, sans-serif" stroke="#505050" stroke-width="0.25">*</text>
<text transform="translate(524.4 307.7) scale(0.92 1.12)" x="0" y="6.01" font-size="12.4" text-anchor="middle" fill="#505050" font-family="DejaVu Sans, sans-serif" stroke="#505050" stroke-width="0.25">*</text>
<text transform="translate(549.8 296.3) scale(0.92 1.12)" x="0" y="6.01" font-size="12.4" text-anchor="middle" fill="#505050" font-family="DejaVu Sans, sans-serif" stroke="#505050" stroke-width="0.25">*</text>
<text x="472.4" y="450.26" font-size="11.3" text-anchor="middle" class="t">+</text>
<text x="496.9" y="450.26" font-size="11.3" text-anchor="middle" class="t">+</text>
<text x="525.3" y="450.26" font-size="11.3" text-anchor="middle" class="t">+</text>
<text x="553.5" y="450.26" font-size="11.3" text-anchor="middle" class="t">+</text>
<text x="473.2" y="463.91" font-size="11.3" text-anchor="middle" textLength="4.2" lengthAdjust="spacingAndGlyphs" class="t">-</text>
<text x="496.9" y="463.91" font-size="11.3" text-anchor="middle" textLength="4.2" lengthAdjust="spacingAndGlyphs" class="t">-</text>
<text x="527.5" y="464.06" font-size="11.3" text-anchor="middle" class="t">+</text>
<text x="553.5" y="464.06" font-size="11.3" text-anchor="middle" class="t">+</text>
<text x="474" y="476.61" font-size="11.3" text-anchor="middle" textLength="4.2" lengthAdjust="spacingAndGlyphs" class="t">-</text>
<text x="500.5" y="476.76" font-size="11.3" text-anchor="middle" class="t">+</text>
<text x="530.3" y="476.61" font-size="11.3" text-anchor="middle" textLength="4.2" lengthAdjust="spacingAndGlyphs" class="t">-</text>
<text x="553.5" y="476.76" font-size="11.3" text-anchor="middle" class="t">+</text>
<text x="453.3" y="454.2" font-size="12.1" text-anchor="end" textLength="59.6" lengthAdjust="spacingAndGlyphs" class="t">CD4-Th17</text>
<text x="453.3" y="464.7" font-size="12.1" text-anchor="end" textLength="16.8" lengthAdjust="spacingAndGlyphs" class="t">WT</text>
<text x="453.9" y="476.9" font-size="12.1" text-anchor="end" textLength="54" lengthAdjust="spacingAndGlyphs" class="t">ACTIVIN A</text>
<text x="426.9" y="391.2" font-size="13" textLength="37.0" lengthAdjust="spacingAndGlyphs" transform="rotate(-90 426.9 391.2)" class="t">%CD4</text>
<text x="426.9" y="343.7" font-size="13" textLength="29.5" lengthAdjust="spacingAndGlyphs" transform="rotate(-90 426.9 343.7)" class="t">IL-10</text>
<text x="417.4" y="354.16" font-size="11" text-anchor="middle" class="t">+</text>
<text x="416.8" y="313.76" font-size="11" text-anchor="middle" class="t">+</text>
</g>
</svg>
</body></html>
